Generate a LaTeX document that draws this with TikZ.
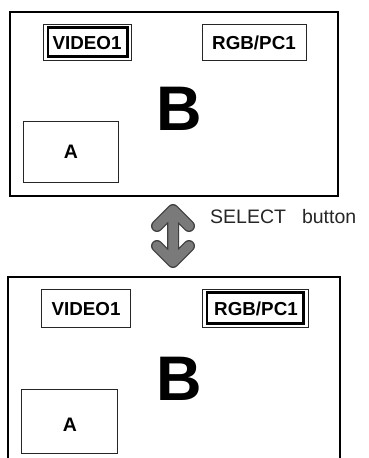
\documentclass[tikz,border=0pt]{standalone}
\usepackage{fontspec}
\setmainfont{Liberation Sans}
\begin{document}
\begin{tikzpicture}[x=1pt,y=-1pt,
  frame/.style={draw=black,line width=2pt},
  box/.style={draw=black!85,line width=1pt},
  selbox/.style={draw=black,line width=2.5pt},
  lbl/.style={inner sep=0pt,anchor=base,font=\bfseries\fontsize{18.8}{19}\selectfont},
  big/.style={inner sep=0pt,anchor=base,font=\bfseries\fontsize{63}{63}\selectfont},
  note/.style={inner sep=0pt,anchor=base west,text=black!85,font=\fontsize{19.5}{20}\selectfont}]
\useasboundingbox (0,0) rectangle (368,458);
% top screen
\draw[frame] (10,12) rectangle (338,196);
\draw[box] (43,24) rectangle (131,60);
\draw[selbox] (48,27.5) rectangle (127.5,56.5);
\node[lbl] (v1) at (87,49.5) {VIDEO1};
\draw[box] (202,24) rectangle (306,60);
\node[lbl] (r1) at (254,49.5) {RGB/PC1};
\node[big] (b1) at (179,130) {B};
\draw[box] (23,121) rectangle (118,182);
\node[lbl,font=\bfseries\fontsize{19.5}{20}\selectfont] (a1) at (71,158.5) {A};
% arrow
\draw[line width=12pt,draw=black!75,line cap=round,line join=round]
  (173,212) -- (173,260)
  (157,226) -- (173,210) -- (189,226)
  (157,246) -- (173,262) -- (189,246);
\draw[line width=9.5pt,draw=black!52,line cap=round,line join=round]
  (173,212) -- (173,260)
  (157,226) -- (173,210) -- (189,226)
  (157,246) -- (173,262) -- (189,246);
\node[note] (sel) at (210,223) {SELECT\hspace{16pt}button};
% bottom screen
\draw[frame] (8,460) -- (8,277) -- (340,277) -- (340,460);
\draw[box] (41,289) rectangle (130,327);
\node[lbl] (v2) at (86,315) {VIDEO1};
\draw[box] (202,289) rectangle (308,327);
\draw[selbox] (207,292.5) rectangle (303.5,323.5);
\node[lbl] (r2) at (256,315) {RGB/PC1};
\node[big] (b2) at (179,400) {B};
\draw[box] (21,389) rectangle (117,453);
\node[lbl,font=\bfseries\fontsize{19.5}{20}\selectfont] (a2) at (70,431) {A};
\end{tikzpicture}
\end{document}
